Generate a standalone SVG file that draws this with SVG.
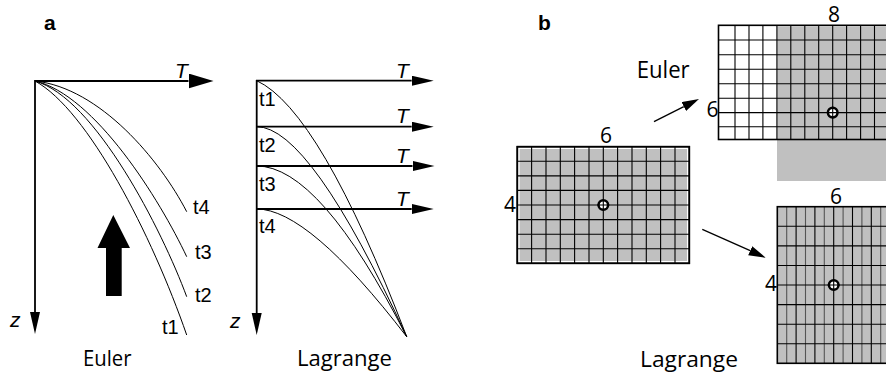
<svg xmlns="http://www.w3.org/2000/svg" width="886" height="376" viewBox="0 0 886 376">
<defs>
<style>
.ax{stroke:#000;stroke-width:1.8;fill:none}
.cv{stroke:#000;stroke-width:1;fill:none}
.lab{font-family:"Liberation Sans",Arial,sans-serif;font-size:20px;fill:#000}
.it{font-family:"Liberation Sans",Arial,sans-serif;font-size:21px;font-style:italic;fill:#000}
.pl{font-family:"Liberation Sans",Arial,sans-serif;font-size:21px;font-weight:bold;fill:#000}
.ttl{font-family:"Open Sans","Noto Sans",sans-serif;font-size:21px;fill:#000}
.num{font-family:"Open Sans","Noto Sans",sans-serif;font-size:21px;fill:#000;text-anchor:middle}
.gl{stroke:#000;stroke-width:1.1}
.gl2{stroke:#555;stroke-width:1.1}
.brd{stroke:#000;stroke-width:1.6}
.mk{fill:#fff;stroke:#000;stroke-width:2.5}
.ar{stroke:#000;stroke-width:1.3;fill:none}
</style>
<marker id="hbig" markerUnits="userSpaceOnUse" markerWidth="26" markerHeight="16" refX="0" refY="7.5" orient="auto"><path d="M0,0 L25,7.5 L0,15 z" fill="#000"/></marker>
<marker id="hmed" markerUnits="userSpaceOnUse" markerWidth="23" markerHeight="11" refX="0" refY="5" orient="auto"><path d="M0,0 L22,5 L0,10 z" fill="#000"/></marker>
<marker id="hsm" markerUnits="userSpaceOnUse" markerWidth="18" markerHeight="11" refX="0" refY="5" orient="auto"><path d="M0,0 L17,5 L0,10 z" fill="#000"/></marker>
</defs>
<rect width="886" height="376" fill="#fff"/>

<g id="panel-a-euler">
<text class="pl" x="44" y="30">a</text>
<g id="connectors-a-euler">
<line class="ax" x1="35" y1="81" x2="188.5" y2="81" marker-end="url(#hbig)"/>
<line class="ax" x1="35" y1="80" x2="35" y2="312" marker-end="url(#hmed)"/>
</g>
<text class="it" x="175" y="78">T</text>
<text class="it" x="10" y="327">z</text>
<path class="cv" d="M35,81 C100,88 160,160 186.7,211.7"/>
<path class="cv" d="M35,81 C95,95 160,200 186.7,256.7"/>
<path class="cv" d="M35,81 C95,98 162,230 186.7,296.7"/>
<path class="cv" d="M35,81 C88,110 152,235 186.7,335"/>
<text class="lab" x="193" y="214">t4</text>
<text class="lab" x="195" y="259">t3</text>
<text class="lab" x="195" y="302">t2</text>
<text class="lab" x="162" y="334">t1</text>
<polygon points="113.3,215 130,248 121.7,248 121.7,296 106,296 106,248 97.5,248" fill="#000"/>
<text class="ttl" x="83" y="366" textLength="48.5" lengthAdjust="spacingAndGlyphs">Euler</text>
</g>

<g id="panel-a-lagrange">
<g id="connectors-a-lagrange">
<line class="ax" x1="256.7" y1="80" x2="256.7" y2="313" marker-end="url(#hmed)"/>
<line class="ax" x1="256" y1="80.7" x2="411.7" y2="80.7" marker-end="url(#hmed)"/>
<line class="ax" x1="256" y1="126.7" x2="411.7" y2="126.7" marker-end="url(#hmed)"/>
<line class="ax" x1="256" y1="166" x2="412.5" y2="166" marker-end="url(#hmed)"/>
<line class="ax" x1="256" y1="209" x2="411.7" y2="209" marker-end="url(#hmed)"/>
</g>
<text class="it" x="396" y="78">T</text>
<text class="it" x="396" y="123">T</text>
<text class="it" x="396" y="163">T</text>
<text class="it" x="396" y="206">T</text>
<text class="it" x="230" y="328">z</text>
<path class="cv" d="M256.7,80.7 Q320,110 406.7,336.7"/>
<path class="cv" d="M256.7,126.7 Q310,126.7 406.7,336.7"/>
<path class="cv" d="M256.7,166 Q320,166 406.7,336.7"/>
<path class="cv" d="M256.7,209 Q308.5,209 406.7,336.7"/>
<text class="lab" x="259" y="106">t1</text>
<text class="lab" x="259" y="152">t2</text>
<text class="lab" x="259" y="191">t3</text>
<text class="lab" x="259" y="233">t4</text>
<text class="ttl" x="297" y="366" textLength="95" lengthAdjust="spacingAndGlyphs">Lagrange</text>
</g>

<g id="panel-b">
<text class="pl" x="538" y="30">b</text>

<g id="grid-initial">
<rect x="517.3" y="146.7" width="172" height="116.6" fill="#fff" class="brd"/>
<rect x="519.6" y="149" width="167.4" height="112" fill="#c0c0c0"/>
<path class="gl" d="M531.6,146.7V263.3M546,146.7V263.3M560.3,146.7V263.3M574.6,146.7V263.3M589,146.7V263.3M603.3,146.7V263.3M617.6,146.7V263.3M632,146.7V263.3M646.3,146.7V263.3M660.6,146.7V263.3M675,146.7V263.3"/>
<path class="gl" d="M517.3,161.3H689.3M517.3,175.9H689.3M517.3,190.4H689.3M517.3,205H689.3M517.3,219.6H689.3M517.3,234.2H689.3M517.3,248.7H689.3"/>
<rect x="517.3" y="146.7" width="172" height="116.6" fill="none" class="brd"/>
<circle class="mk" cx="603.3" cy="205" r="4.8"/>
<path class="gl" d="M603.3,199V211M597.3,205H609.3"/>
<text class="num" x="606" y="143">6</text>
<text class="num" x="510" y="212">4</text>
</g>

<g id="grid-euler">
<rect x="718.5" y="25.3" width="175" height="114.2" fill="#fff"/>
<rect x="777" y="26.5" width="115" height="154.5" fill="#c0c0c0"/>
<path class="gl" d="M735,25.3V139.5M749,25.3V139.5M762.9,25.3V139.5M776.9,25.3V139.5M790.8,25.3V139.5M804.8,25.3V139.5M818.7,25.3V139.5M832.7,25.3V139.5M846.6,25.3V139.5M860.6,25.3V139.5M874.5,25.3V139.5"/>
<path class="gl" d="M718.5,40H890M718.5,54.7H890M718.5,69.2H890M718.5,83.8H890M718.5,98.3H890M718.5,112.6H890M718.5,126.7H890"/>
<rect x="718.5" y="25.3" width="175" height="114.2" fill="none" class="brd"/>
<circle class="mk" cx="832.7" cy="112.6" r="4.8"/>
<path class="gl" d="M832.7,106.6V118.6M826.7,112.6H838.7"/>
<text class="num" x="834" y="22">8</text>
<text class="num" x="712.5" y="117">6</text>
</g>

<g id="grid-lagrange">
<rect x="777.3" y="206.7" width="115" height="156.6" fill="#c0c0c0"/>
<path class="gl2" d="M786.7,206.7V363.3M805.5,206.7V363.3M824.3,206.7V363.3M843.1,206.7V363.3M861.9,206.7V363.3M880.7,206.7V363.3"/>
<path class="gl" d="M796.1,206.7V363.3M814.9,206.7V363.3M833.7,206.7V363.3M852.5,206.7V363.3M871.3,206.7V363.3"/>
<path class="gl" d="M777.3,226.3H890M777.3,245.9H890M777.3,265.5H890M777.3,285H890M777.3,304.6H890M777.3,324.2H890M777.3,343.7H890"/>
<rect x="777.3" y="206.7" width="115" height="156.6" fill="none" class="brd"/>
<circle class="mk" cx="833.7" cy="285" r="4.8"/>
<path class="gl" d="M833.7,279V291M827.7,285H839.7"/>
<text class="num" x="836" y="204">6</text>
<text class="num" x="771" y="291">4</text>
</g>

<g id="connectors-b">
<line class="ar" x1="654" y1="121.7" x2="683.8" y2="106.65" marker-end="url(#hsm)"/>
<line class="ar" x1="702.3" y1="229.3" x2="750.2" y2="250.7" marker-end="url(#hsm)"/>
</g>
<text class="ttl" x="636.7" y="78" textLength="53" lengthAdjust="spacingAndGlyphs" style="font-size:23px">Euler</text>
<text class="ttl" x="640" y="367" textLength="98" lengthAdjust="spacingAndGlyphs" style="font-size:22px">Lagrange</text>
</g>
</svg>
